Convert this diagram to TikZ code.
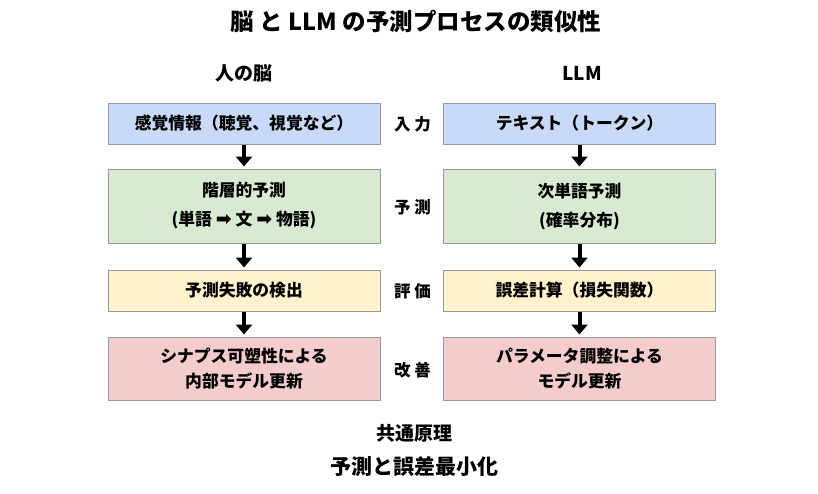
\documentclass[tikz,border=0pt]{standalone}
\usepackage{fontspec}
\setmainfont{Noto Sans CJK JP}
\newfontfamily\dv{DejaVu Sans}
\usetikzlibrary{arrows.meta}
\definecolor{bluef}{HTML}{C9DAF8}
\definecolor{greenf}{HTML}{D9EAD3}
\definecolor{yellowf}{HTML}{FFF2CC}
\definecolor{pinkf}{HTML}{F4CCCC}
\definecolor{edge}{HTML}{999999}
\newcommand{\harr}{{\dv\fontsize{19}{20}\selectfont ➡}}
\tikzset{
  box/.style={draw=edge, line width=1pt, minimum width=272pt, inner sep=0pt, align=center,
    font=\fontsize{16.8}{20}\selectfont\bfseries},
  arr/.style={line width=4pt, -{Triangle[width=16pt,length=10pt]}, shorten >=2pt},
  lbl/.style={font=\fontsize{16.5}{20}\selectfont\bfseries, inner sep=0pt},
}
\begin{document}
\begin{tikzpicture}[x=1pt,y=-1pt]
\useasboundingbox (0,0) rectangle (818,493);
\fill[white] (0,0) rectangle (818,493);
\node[font=\fontsize{23.5}{28}\selectfont\bfseries] (title) at (416,22) {脳 と LLM の予測プロセスの類似性};
\node[font=\fontsize{19}{24}\selectfont\bfseries] (hl) at (244,73) {人の脳};
\node[font=\fontsize{19}{24}\selectfont\bfseries] (hr) at (582,73) {LLM};
% left column
\node[box, fill=bluef, minimum height=41pt] (l1) at (244,123.5) {感覚情報（聴覚、視覚など）};
\node[box, fill=greenf, minimum height=74pt, font=\fontsize{16.8}{29}\selectfont\bfseries] (l2) at (244,206) {階層的予測\\(単語 \harr{} 文 \harr{} 物語)};
\node[box, fill=yellowf, minimum height=41pt] (l3) at (244,290.5) {予測失敗の検出};
\node[box, fill=pinkf, minimum height=63pt, font=\fontsize{16.8}{25}\selectfont\bfseries] (l4) at (244,368.5) {シナプス可塑性による\\内部モデル更新};
% right column
\node[box, fill=bluef, minimum height=41pt] (r1) at (579.5,123.5) {テキスト（トークン）};
\node[box, fill=greenf, minimum height=74pt, font=\fontsize{16.8}{29}\selectfont\bfseries] (r2) at (579.5,206) {次単語予測\\(確率分布)};
\node[box, fill=yellowf, minimum height=41pt] (r3) at (579.5,290.5) {誤差計算（損失関数）};
\node[box, fill=pinkf, minimum height=63pt, font=\fontsize{16.8}{25}\selectfont\bfseries] (r4) at (579.5,368.5) {パラメータ調整による\\モデル更新};
% middle labels
\node[lbl] (m1) at (412.5,124) {入 力};
\node[lbl] (m2) at (412.5,207) {予 測};
\node[lbl] (m3) at (412.5,291) {評 価};
\node[lbl] (m4) at (412.5,370) {改 善};
% arrows
\draw[arr] (l1.south) -- (l2.north);
\draw[arr] (l2.south) -- (l3.north);
\draw[arr] (l3.south) -- (l4.north);
\draw[arr] (r1.south) -- (r2.north);
\draw[arr] (r2.south) -- (r3.north);
\draw[arr] (r3.south) -- (r4.north);
% bottom
\node[font=\fontsize{19}{24}\selectfont\bfseries] (c1) at (414,433) {共通原理};
\node[font=\fontsize{21}{26}\selectfont\bfseries] (c2) at (414,467) {予測と誤差最小化};
\end{tikzpicture}
\end{document}
